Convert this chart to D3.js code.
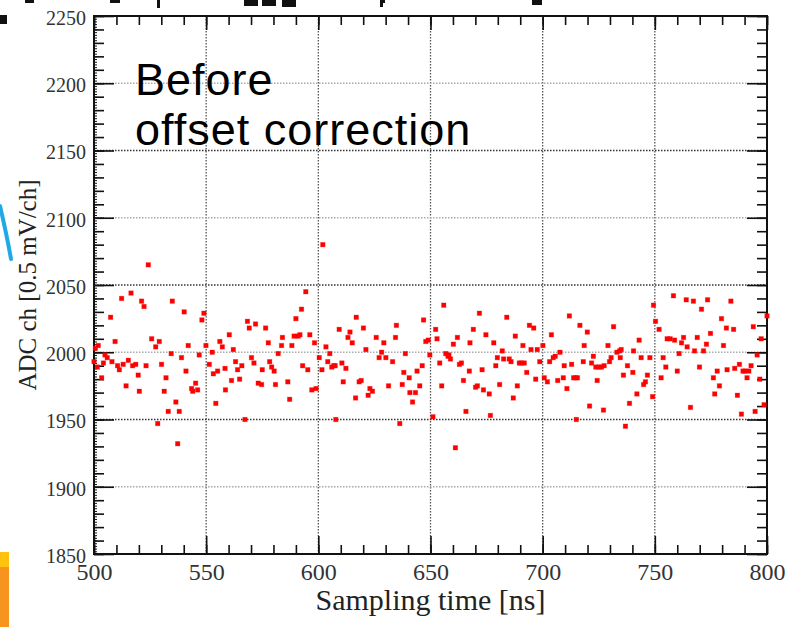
<!DOCTYPE html>
<html><head><meta charset="utf-8">
<script src="https://cdn.jsdelivr.net/npm/d3@7"></script>
<style>body{margin:0;background:#fff}svg{display:block}</style>
</head><body>
<svg id="chart" width="789" height="627"></svg>
<script>
// ---- data ----
const sampleTime = [
500,500.6,501.5,501.9,503.4,504.2,504.9,505.9,507.4,508.0,509.4,510.5,511.3,512.3,513.0,514.3,515.3,516.5,517.2,518.6,
519.7,520.2,521.2,522.3,523.2,524.2,525.7,527.5,528.4,529.1,530.1,531.3,532.1,533.1,534.4,534.9,536.5,537.3,538.0,539.0,
540.2,541.0,542.0,543.5,544.0,545.3,546.2,546.9,548.1,549.0,549.9,551.4,552.7,553.2,554.3,555.1,556.1,557.2,558.4,558.6,
560.3,561.3,562.1,563.1,564.0,564.9,565.9,567.3,568.4,569.2,570.2,571.3,572.0,573.2,
574.7,575.0,576.5,577.7,578.3,579.2,580.3,580.9,582.1,583.6,584.0,586.4,587.2,588.2,589.2,590.0,591.0,591.8,592.5,593.0,
594.4,595.3,596.2,597.1,598.3,599.0,600.4,601.6,602.0,603.4,604.2,605.1,606.0,606.9,607.5,607.8,609.3,610.5,611.1,612.3,
613.2,614.1,615.1,616.6,616.9,618.2,619.1,620.1,621.2,622.2,623.0,624.1,625.8,627.1,628.2,629.2,630.1,631.3,633.1,634.4,
634.8,636.3,637.4,638.1,638.8,640.5,640.8,642.0,643.3,644.0,645.2,646.3,646.9,647.9,649.0,649.7,
651.1,652.3,652.9,654.1,655.0,655.9,656.8,657.8,658.2,658.9,660.2,661.1,662.0,662.9,663.8,664.7,665.8,667.3,667.6,669.1,
670.1,670.9,671.8,673.0,673.6,674.7,676.2,676.7,678.2,679.1,679.8,680.8,682.0,682.6,684.0,685.1,685.9,686.9,687.8,688.7,
689.6,690.5,691.2,691.8,692.9,694.1,694.8,696.0,696.9,697.6,698.7,700.1,700.7,702.1,703.1,703.9,704.7,705.6,706.7,707.7,
709.2,709.6,710.8,711.9,712.9,713.8,714.7,715.0,715.5,716.6,718.1,718.5,719.9,720.9,721.8,722.6,723.7,724.3,725.1,
726.2,727.1,727.4,729.1,729.8,730.5,731.6,733.1,734.3,734.6,735.0,736.0,736.9,737.8,738.7,740.2,740.5,742.0,743.0,743.9,
745.0,745.8,746.7,747.8,749.0,749.4,750.3,751.9,752.8,753.7,754.9,755.5,756.8,758.3,758.8,760.0,760.8,761.9,762.8,764.0,
764.4,765.9,767.2,767.7,768.9,769.9,770.8,771.7,773.0,773.5,774.8,776.1,776.7,777.8,778.8,779.7,780.6,781.9,782.2,783.9,
785.1,785.6,786.8,787.7,788.6,789.3,790.2,791.1,791.9,792.9,793.9,794.7,795.6,796.8,797.4,798.7,800.0
];
const adcValue = [
1993,2003,1989,2005,1981,1992,1998,1996,2026,1993,2008,1990,1987,2040,1991,1975,1994,2044,1990,1991,
1983,1971,2038,2034,1990,2065,2010,2004,1947,2008,1991,1971,1981,1956,1999,2038,1963,1932,1956,1996,
2030,1986,2005,1973,1971,1977,1972,1998,2024,2029,2005,1991,2000,1984,1962,1986,2008,2004,1988,1972,
2013,1979,2002,1993,1987,1980,1990,1950,2023,2018,1996,1992,2021,1977,
1976,1987,2018,2007,1993,1989,1986,1976,1999,2005,2011,1978,1965,2005,2012,2025,2012,2013,2032,1990,
2045,1987,2013,1972,2007,1973,1996,1987,2080,2004,1993,1999,1989,1990,1990,1950,2017,1992,1978,1988,
2011,2015,2007,1966,2026,1978,1979,2018,2002,1968,1973,1971,2011,1996,2000,2007,1996,1975,1993,2011,
2020,1947,1976,1985,1999,1981,1970,1963,1970,1986,1975,1990,2024,2008,2009,1998,
1952,2017,2010,1992,1975,2035,1999,1997,1998,1995,2006,1929,2011,1991,1992,1979,1956,1986,2007,2017,
1974,1975,2029,1987,1972,2013,1969,1953,2007,1990,1996,1976,2001,1995,2026,1995,1993,1966,2012,1975,
1992,1992,2005,1992,1985,2020,2002,2018,1980,2002,1993,2005,1981,1978,1993,2013,1996,1997,1979,2000,
1981,1990,1973,2027,1991,1981,1981,1950,1981,2020,1993,2005,2015,1960,1992,1997,1989,1979,1989,
1989,1957,1990,2005,1993,1996,2019,2000,2001,1996,2002,1983,1945,1990,1962,1985,2001,1969,2009,1996,
1976,1978,1983,1996,1967,2035,2023,2017,1981,1996,1989,2010,2010,2042,2009,1986,1999,2007,2011,2039,
2004,1959,2038,2001,2011,1989,2032,2001,2006,2039,2014,1981,1969,1986,1975,2025,2005,2018,1987,2038,
2017,1988,1968,1991,1954,1986,1986,1981,1986,1990,2019,1956,1998,1980,2010,1961,2027
];
const xTickValues = [500, 550, 600, 650, 700, 750, 800];
const yTickValues = [1850, 1900, 1950, 2000, 2050, 2100, 2150, 2200, 2250];
const annotationLines = ["Before", "offset correction"];
const xTitle = "Sampling time [ns]";
const yTitle = "ADC ch [0.5 mV/ch]";

// ---- layout ----
const L = 94, R = 767, T = 16, B = 554;
const svg = d3.select("#chart");
const x = d3.scaleLinear().domain([500, 800]).range([L, R]);
const y = d3.scaleLinear().domain([1850, 2250]).range([B, T]);

// background slide fragments
const bg = svg.append("g");
bg.append("rect").attr("x", 0).attr("y", 552).attr("width", 9).attr("height", 15).attr("fill", "#ffc20e");
bg.append("rect").attr("x", 0).attr("y", 567).attr("width", 9).attr("height", 60).attr("fill", "#f7941d");
bg.append("path").attr("d", "M0,206 Q7,236 11,259").attr("fill", "none")
  .attr("stroke", "#1fa9e6").attr("stroke-width", 4).attr("stroke-linecap", "round");
bg.append("rect").attr("x", 0).attr("y", 15).attr("width", 7).attr("height", 9).attr("fill", "#111");
[[25,0,9,3],[110,0,10,3],[157,0,3,8],[244,0,14,6],[262,0,14,6],[282,0,14,7],[380,0,3,7],[380,0,5,3],[532,0,10,5]]
  .forEach(d => bg.append("rect").attr("x", d[0]).attr("y", d[1]).attr("width", d[2]).attr("height", d[3]).attr("fill", "#111"));

// ---- grid ----
const grid = svg.append("g");
grid.selectAll("line.v").data(xTickValues.slice(1, -1)).join("line")
  .attr("x1", d => x(d)).attr("x2", d => x(d)).attr("y1", T).attr("y2", B)
  .attr("stroke", "#555").attr("stroke-width", 1.3).attr("stroke-dasharray", "1.5,1.5");
grid.selectAll("line.h").data(yTickValues.slice(1, -1)).join("line")
  .attr("x1", L).attr("x2", R).attr("y1", d => y(d)).attr("y2", d => y(d))
  .attr("stroke", d => (d % 100 === 50) ? "#333" : "#aaa").attr("stroke-width", 1.3).attr("stroke-dasharray", "1.5,1.5");

// ---- axes ----
function styleAxis(g) {
  g.select(".domain").remove();
  g.selectAll(".tick line").attr("stroke", "#111").attr("stroke-width", 1.6);
}
// bottom
svg.append("g").attr("transform", `translate(0,${B})`)
  .call(d3.axisBottom(x).tickValues(d3.range(500, 801, 10)).tickSize(-9).tickFormat("")).call(styleAxis);
svg.append("g").attr("transform", `translate(0,${B})`)
  .call(d3.axisBottom(x).tickValues(xTickValues).tickSize(-18).tickPadding(9).tickFormat(d3.format("d")))
  .call(styleAxis)
  .call(g => g.selectAll("text").attr("font-family", "Liberation Serif, serif").attr("font-size", 24).attr("fill", "#333"));
// top
svg.append("g").attr("transform", `translate(0,${T})`)
  .call(d3.axisTop(x).tickValues(d3.range(500, 801, 10)).tickSize(-9).tickFormat("")).call(styleAxis);
svg.append("g").attr("transform", `translate(0,${T})`)
  .call(d3.axisTop(x).tickValues(xTickValues).tickSize(-14).tickFormat("")).call(styleAxis);
// left
svg.append("g").attr("transform", `translate(${L},0)`)
  .call(d3.axisLeft(y).tickValues(d3.range(1850, 2251, 2)).tickSize(-3).tickFormat("")).call(styleAxis)
  .call(g => g.selectAll(".tick line").attr("stroke-width", 1));
svg.append("g").attr("transform", `translate(${L},0)`)
  .call(d3.axisLeft(y).tickValues(d3.range(1850, 2251, 10)).tickSize(-10).tickFormat("")).call(styleAxis);
svg.append("g").attr("transform", `translate(${L},0)`)
  .call(d3.axisLeft(y).tickValues(yTickValues).tickSize(-20).tickPadding(8).tickFormat(d3.format("d")))
  .call(styleAxis)
  .call(g => g.selectAll("text").attr("font-family", "Liberation Serif, serif").attr("font-size", 20)
    .attr("fill", "#333").attr("dy", "0.42em"));
// right
svg.append("g").attr("transform", `translate(${R},0)`)
  .call(d3.axisRight(y).tickValues(d3.range(1850, 2251, 10)).tickSize(-10).tickFormat("")).call(styleAxis);
svg.append("g").attr("transform", `translate(${R},0)`)
  .call(d3.axisRight(y).tickValues(yTickValues).tickSize(-20).tickFormat("")).call(styleAxis);

// frame
svg.append("rect").attr("x", L).attr("y", T).attr("width", R - L).attr("height", B - T)
  .attr("fill", "none").attr("stroke", "#111").attr("stroke-width", 2);

// ---- points ----
const pts = sampleTime.map((t, i) => ({t, v: adcValue[i]}));
svg.append("g").selectAll("rect").data(pts).join("rect")
  .attr("x", d => x(d.t) - 2.25).attr("y", d => y(d.v) - 2.25)
  .attr("width", 4.5).attr("height", 4.5)
  .attr("fill", "#ff0000").attr("stroke", "rgba(255,0,0,0.35)").attr("stroke-width", 0.8);

// ---- texts ----
svg.append("text").attr("font-family", "Liberation Sans, Arial, sans-serif").attr("font-size", 45)
  .attr("letter-spacing", 1).attr("fill", "#000")
  .selectAll("tspan").data(annotationLines).join("tspan")
  .attr("x", 135).attr("y", (d, i) => 95 + i * 50).text(d => d);

svg.append("text").attr("x", (L + R) / 2).attr("y", 610).attr("text-anchor", "middle")
  .attr("font-family", "Liberation Serif, serif").attr("font-size", 30).attr("fill", "#222").text(xTitle);
svg.append("text").attr("transform", `translate(36,${(T + B) / 2}) rotate(-90)`).attr("text-anchor", "middle")
  .attr("font-family", "Liberation Serif, serif").attr("font-size", 25).attr("fill", "#222").text(yTitle);
</script>
</body></html>
